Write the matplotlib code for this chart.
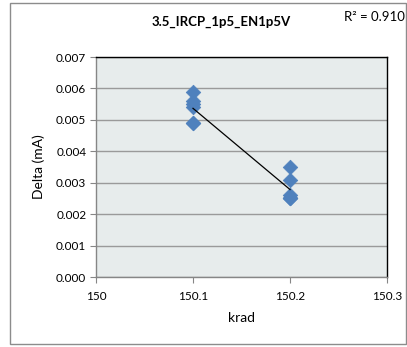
import matplotlib
matplotlib.use("Agg")
import matplotlib.pyplot as plt
import numpy as np
from matplotlib.patches import Rectangle

plt.rcParams['font.family'] = ['Lato', 'DejaVu Sans']

title = "3.5_IRCP_1p5_EN1p5V"
x_label = "krad"
y_label = "Delta (mA)"
r2_text = "R² = 0.910"

krad = [150.1, 150.1, 150.1, 150.1, 150.1, 150.1,
        150.2, 150.2, 150.2, 150.2, 150.2, 150.2]
delta = [0.0059, 0.0056, 0.0055, 0.0054, 0.0049, 0.0049,
         0.0035, 0.0031, 0.0026, 0.0025, 0.0025, 0.0025]

x_ticks = [150, 150.1, 150.2, 150.3]
x_tick_labels = ["150", "150.1", "150.2", "150.3"]
y_ticks = [0.000, 0.001, 0.002, 0.003, 0.004, 0.005, 0.006, 0.007]
y_tick_labels = ["0.000", "0.001", "0.002", "0.003", "0.004", "0.005", "0.006", "0.007"]

fig = plt.figure(figsize=(4.07, 3.47), dpi=100)
fig.patch.set_facecolor('white')

# outer chart frame
fig.add_artist(Rectangle((10/407, 1 - 344/347), 396/407, 341/347,
                         transform=fig.transFigure, fill=False,
                         edgecolor='#8C8C8C', linewidth=1.0))

ax = fig.add_axes([96/407, 1 - 277/347, 291/407, 220/347])
ax.set_facecolor('#E7ECEC')

ax.set_xlim(150, 150.3)
ax.set_ylim(0, 0.007)
ax.set_xticks(x_ticks)
ax.set_xticklabels(x_tick_labels)
ax.set_yticks(y_ticks)
ax.set_yticklabels(y_tick_labels)
ax.grid(axis='y', color='#9A9A9A', linewidth=1.0)
ax.set_axisbelow(True)

for s in ['top', 'right']:
    ax.spines[s].set_color('black')
    ax.spines[s].set_linewidth(1.0)
for s in ['left', 'bottom']:
    ax.spines[s].set_color('#868686')
    ax.spines[s].set_linewidth(1.0)

ax.tick_params(axis='both', direction='out', length=4, width=0.8,
               color='#868686', labelsize=8.5)
ax.tick_params(axis='x', pad=6)
ax.tick_params(axis='y', pad=3)

ax.scatter(krad, delta, marker='D', s=55, color='#4F81BD',
           edgecolors='#4F81BD', linewidths=0.5, zorder=3)

xa = np.array(krad)
ya = np.array(delta)
m, b = np.polyfit(xa, ya, 1)
xl = np.array([xa.min(), xa.max()])
ax.plot(xl, m * xl + b, color='black', linewidth=0.9, zorder=4)

ax.set_xlabel(x_label, fontsize=10, labelpad=7)
ax.set_ylabel(y_label, fontsize=10, labelpad=8)

fig.text(221/407, 1 - 22/347, title, fontsize=9.5, fontweight='bold',
         ha='center', va='center')
fig.text(405/407, 1 - 17/347, r2_text, fontsize=9.5, ha='right', va='center')

fig.savefig("out.png", dpi=100)
